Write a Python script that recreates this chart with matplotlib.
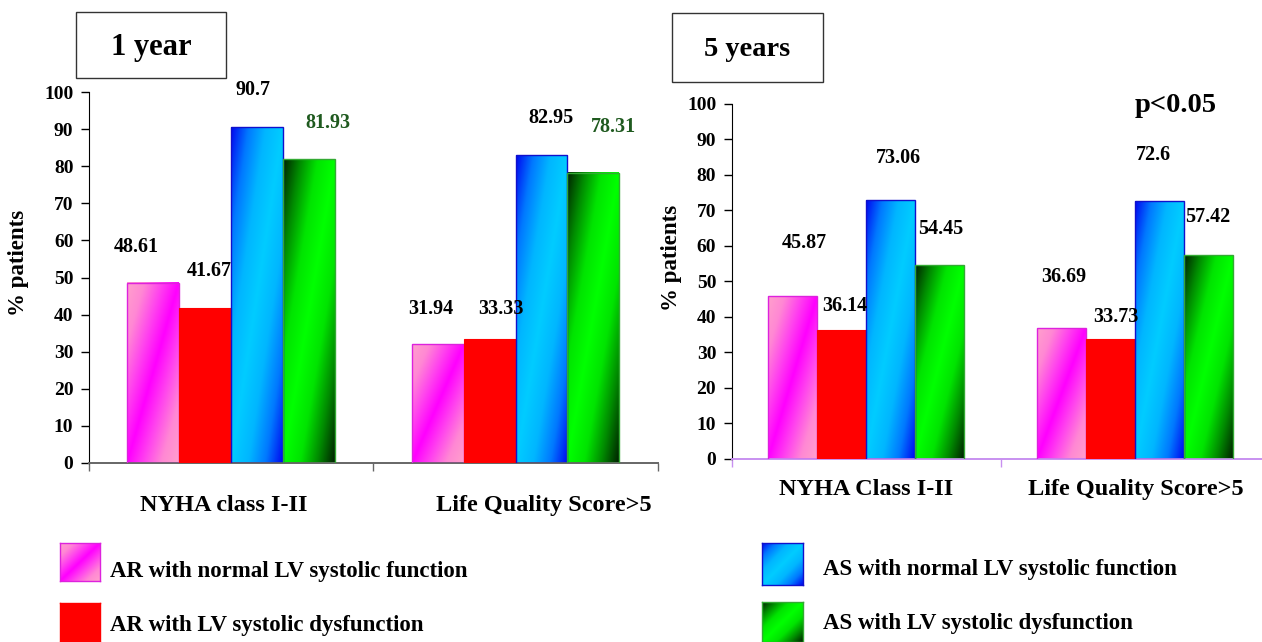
import numpy as np
import matplotlib
matplotlib.use("Agg")
import matplotlib.pyplot as plt
from matplotlib.colors import LinearSegmentedColormap
from matplotlib.patches import Rectangle

# ---- data -------------------------------------------------------------
categories_1y = ["NYHA class I-II", "Life Quality Score>5"]
categories_5y = ["NYHA Class I-II", "Life Quality Score>5"]
series_names = [
    "AR with normal LV systolic function",
    "AR with LV systolic dysfunction",
    "AS with normal LV systolic function",
    "AS with LV systolic dysfunction",
]
ar_normal_1y = [48.61, 31.94]
ar_dysf_1y = [41.67, 33.33]
as_normal_1y = [90.7, 82.95]
as_dysf_1y = [81.93, 78.31]

ar_normal_5y = [45.87, 36.69]
ar_dysf_5y = [36.14, 33.73]
as_normal_5y = [73.06, 72.6]
as_dysf_5y = [54.45, 57.42]

yticks = [0, 10, 20, 30, 40, 50, 60, 70, 80, 90, 100]

# ---- style ------------------------------------------------------------
W, H = 1262, 642
FONT = "Liberation Serif"
plt.rcParams["font.family"] = [FONT, "DejaVu Serif"]
plt.rcParams["font.weight"] = "bold"

cmaps = [
    LinearSegmentedColormap.from_list("pink", ["#ff00ff", "#ff44ee", "#ff88d4", "#ffa0cc"]),
    None,
    LinearSegmentedColormap.from_list("blue", ["#00ccff", "#00b6ff", "#0078ff", "#0008f0"]),
    LinearSegmentedColormap.from_list("green", ["#00ff00", "#00e400", "#008a00", "#002200"]),
]
solid = [None, "#ff0000", None, None]
edges = ["#dd22dd", "#ff0000", "#1010cc", "#33aa33"]


def diag_gradient(cmap, n=120):
    u = np.linspace(0, 1, n)
    v = np.linspace(0, 1, n)
    uu, vv = np.meshgrid(u, v)
    return cmap(np.abs(uu - vv))


def px_rect(x0, y0, x1, y1):
    return [x0 / W, 1 - y1 / H, (x1 - x0) / W, (y1 - y0) / H]


fig = plt.figure(figsize=(W / 100, H / 100), dpi=100)
fig.patch.set_facecolor("white")

bar_w = 0.182


def draw_panel(ax, cats, series, label_offsets, label_colors, xspine_color,
               xlabel_pad, xlabel_shift):
    x = np.arange(len(cats))
    for i, vals in enumerate(series):
        pos = x + (i - 1.5) * bar_w
        if solid[i] is not None:
            bars = ax.bar(pos, vals, bar_w, color=solid[i], edgecolor=edges[i],
                          linewidth=0.8, zorder=3)
        else:
            bars = ax.bar(pos, vals, bar_w, facecolor="none", edgecolor=edges[i],
                          linewidth=1.0, zorder=3)
            for b in bars:
                ax.imshow(diag_gradient(cmaps[i]), origin="lower", aspect="auto",
                          interpolation="bilinear",
                          extent=[b.get_x(), b.get_x() + b.get_width(), 0, b.get_height()],
                          zorder=2)
        for j, b in enumerate(bars):
            dx, dy = label_offsets[i][j]
            ax.annotate(f"{vals[j]:g}", (b.get_x() + b.get_width() / 2, b.get_height()),
                        xytext=(dx, dy), textcoords="offset pixels",
                        ha="center", va="center", fontsize=14.5, fontweight="bold",
                        color=label_colors[i], zorder=5)
    ax.set_xlim(-0.5, 1.5)
    ax.set_ylim(0, 100)
    ax.set_yticks(yticks)
    ax.tick_params(axis="y", direction="out", length=6, width=1, labelsize=14, pad=5)
    ax.set_xticks(x)
    ax.set_xticklabels([])
    ax.tick_params(axis="x", length=0)
    # category names below the axis
    for k, name in enumerate(cats):
        ax.annotate(name, (x[k], 0), xytext=(xlabel_shift[k], -xlabel_pad),
                    textcoords="offset pixels", ha="center", va="center",
                    fontsize=17.5, fontweight="bold", annotation_clip=False)
    ax.set_xticks([-0.5, 0.5, 1.5], minor=True)
    ax.tick_params(axis="x", which="minor", direction="out", length=6,
                   color=xspine_color, width=1)
    for s in ("top", "right"):
        ax.spines[s].set_visible(False)
    ax.spines["left"].set_color("black")
    ax.spines["bottom"].set_color(xspine_color)
    ax.spines["bottom"].set_linewidth(1.4)
    ax.set_facecolor("none")


# ---- 1 year -----------------------------------------------------------
ax1 = fig.add_axes(px_rect(88.7, 92.3, 658, 462.7))
offs1 = [[(-17, 36), (-7, 35)],
         [(4, 37), (11, 30)],
         [(-4, 37), (9, 37)],
         [(19, 36), (20, 46)]]
cols1 = ["black", "black", "black", "#1f5a1f"]
draw_panel(ax1, categories_1y, [ar_normal_1y, ar_dysf_1y, as_normal_1y, as_dysf_1y],
           offs1, cols1, "#666666", 43, (-7, 28))
fig.text(19 / W, 1 - 263 / H, "% patients", rotation=90, ha="center", va="center",
         fontsize=16.5, fontweight="bold")

# ---- 5 years ----------------------------------------------------------
ax2 = fig.add_axes(px_rect(731.5, 104, 1269.5, 458.5))
offs2 = [[(12, 53), (2, 51)],
         [(3, 24), (5, 22)],
         [(8, 42), (-6, 46)],
         [(1, 36), (-1, 38)]]
cols2 = ["black", "black", "black", "black"]
draw_panel(ax2, categories_5y, [ar_normal_5y, ar_dysf_5y, as_normal_5y, as_dysf_5y],
           offs2, cols2, "#c890f0", 31, (0, 1))
fig.text(672 / W, 1 - 258 / H, "% patients", rotation=90, ha="center", va="center",
         fontsize=16.5, fontweight="bold")
fig.text(1176 / W, 1 - 106 / H, "p<0.05", ha="center", va="center",
         fontsize=20.5, fontweight="bold")

# ---- boxed panel titles -----------------------------------------------
for (x0, y0, x1, y1), title, fs in [((76, 12, 226, 78), "1 year", 22),
                                    ((672, 13, 823, 82), "5 years", 20.5)]:
    fig.patches.append(Rectangle((x0 / W, 1 - y1 / H), (x1 - x0) / W, (y1 - y0) / H,
                                 transform=fig.transFigure, facecolor="white",
                                 edgecolor="#333333", linewidth=1.0))
    fig.text((x0 + x1) / 2 / W, 1 - ((y0 + y1) / 2 + 2) / H, title, ha="center",
             va="center", fontsize=fs, fontweight="bold")

# ---- legend -----------------------------------------------------------
legend_items = [
    (0, (60, 543, 100, 581), (110, 572)),
    (1, (60, 603, 100, 642), (110, 626)),
    (2, (762, 543, 803, 585), (823, 570)),
    (3, (762, 602, 803, 642), (823, 623)),
]
for idx, (x0, y0, x1, y1), (tx, ty) in legend_items:
    sw = fig.add_axes(px_rect(x0, y0, x1, y1))
    if solid[idx] is not None:
        sw.set_facecolor(solid[idx])
    else:
        sw.imshow(diag_gradient(cmaps[idx]), origin="lower", aspect="auto",
                  interpolation="bilinear", extent=[0, 1, 0, 1])
    sw.set_xticks([])
    sw.set_yticks([])
    for s in sw.spines.values():
        s.set_color(edges[idx])
        s.set_linewidth(1.0)
    fig.text(tx / W, 1 - ty / H, series_names[idx], ha="left", va="center",
             fontsize=16.5, fontweight="bold")

fig.savefig("out.png", dpi=100)
